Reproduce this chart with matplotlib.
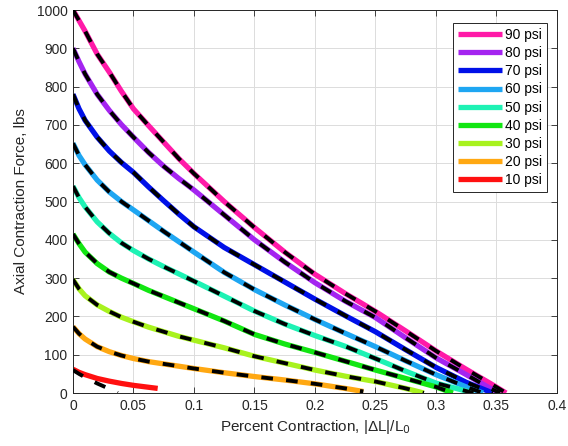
import matplotlib
matplotlib.use("Agg")
import matplotlib.pyplot as plt
from matplotlib.ticker import FuncFormatter

# --- VERİ ---
pressures = ["90 psi", "80 psi", "70 psi", "60 psi", "50 psi", "40 psi", "30 psi", "20 psi", "10 psi"]
colors = ["#ff1aa8", "#a424f0", "#0010e8", "#1ea6f2", "#1ef2b4", "#12e612", "#a8f21e", "#ffa812", "#ff1010"]

# ölçülen kuvvet eğrileri (kontraksiyon, kuvvet)
x_90 = [0, 0.01, 0.02, 0.03, 0.04, 0.05, 0.0625, 0.075, 0.0875, 0.1, 0.125, 0.15, 0.175, 0.2,
        0.225, 0.25, 0.275, 0.3, 0.325, 0.345, 0.358]
f_90 = [1000, 945, 885, 838, 788, 742, 698, 655, 612, 573, 500, 432, 368, 310,
        260, 213, 162, 110, 62, 25, 0]
x_80 = [0, 0.005, 0.01, 0.02, 0.03, 0.04, 0.05, 0.0625, 0.075, 0.0875, 0.1, 0.125, 0.15, 0.175,
        0.2, 0.225, 0.25, 0.275, 0.3, 0.325, 0.345, 0.353]
f_80 = [900, 865, 833, 780, 738, 701, 668, 628, 592, 560, 530, 465, 400, 342,
        288, 240, 197, 144, 92, 48, 12, 0]
x_70 = [0, 0.005, 0.01, 0.02, 0.03, 0.04, 0.05, 0.0625, 0.075, 0.0875, 0.1, 0.125, 0.15, 0.175,
        0.2, 0.225, 0.25, 0.275, 0.3, 0.325, 0.347]
f_70 = [780, 742, 712, 668, 632, 602, 576, 538, 502, 467, 434, 380, 335, 290,
        245, 202, 160, 113, 67, 28, 0]
x_60 = [0, 0.005, 0.01, 0.02, 0.03, 0.04, 0.05, 0.0625, 0.075, 0.0875, 0.1, 0.125, 0.15, 0.175,
        0.2, 0.225, 0.25, 0.275, 0.3, 0.325, 0.339]
f_60 = [652, 620, 596, 556, 525, 500, 478, 450, 422, 395, 368, 315, 270, 230,
        192, 156, 121, 84, 48, 16, 0]
x_50 = [0, 0.005, 0.01, 0.02, 0.03, 0.04, 0.05, 0.0625, 0.075, 0.0875, 0.1, 0.125, 0.15, 0.175,
        0.2, 0.225, 0.25, 0.275, 0.3, 0.331]
f_50 = [540, 510, 486, 447, 417, 392, 372, 350, 330, 311, 292, 253, 214, 180,
        150, 122, 90, 57, 26, 0]
x_40 = [0, 0.005, 0.01, 0.02, 0.03, 0.04, 0.05, 0.0625, 0.075, 0.0875, 0.1, 0.125, 0.15, 0.175,
        0.2, 0.225, 0.25, 0.275, 0.3, 0.314]
f_40 = [415, 390, 368, 338, 316, 300, 286, 268, 252, 236, 220, 188, 153, 128,
        106, 83, 60, 38, 16, 0]
x_30 = [0, 0.005, 0.01, 0.02, 0.03, 0.04, 0.05, 0.0625, 0.075, 0.0875, 0.1, 0.125, 0.15, 0.175,
        0.2, 0.225, 0.25, 0.275, 0.29]
f_30 = [296, 272, 254, 230, 213, 198, 186, 172, 160, 148, 138, 118, 96, 78,
        60, 44, 30, 12, 0]
x_20 = [0, 0.005, 0.01, 0.02, 0.03, 0.04, 0.05, 0.0625, 0.075, 0.0875, 0.1, 0.125, 0.15, 0.175,
        0.2, 0.225, 0.24]
f_20 = [173, 155, 141, 121, 108, 98, 90, 82, 76, 70, 64, 53, 43, 34,
        24, 12, 4]
x_10 = [0, 0.005, 0.01, 0.02, 0.03, 0.04, 0.05, 0.06, 0.07]
f_10 = [62, 54, 48, 38, 31, 25, 20, 16, 12]

# model (kesikli siyah) - 10 psi haricinde ölçümle çakışıyor
fit_x_10 = [0, 0.005, 0.01, 0.02, 0.03, 0.037]
fit_f_10 = [60, 50, 41, 25, 11, 0]

measured = [(x_90, f_90), (x_80, f_80), (x_70, f_70), (x_60, f_60), (x_50, f_50),
            (x_40, f_40), (x_30, f_30), (x_20, f_20), (x_10, f_10)]
fits = measured[:-1] + [(fit_x_10, fit_f_10)]

x_ticks = [0, 0.05, 0.1, 0.15, 0.2, 0.25, 0.3, 0.35, 0.4]
y_ticks = [0, 100, 200, 300, 400, 500, 600, 700, 800, 900, 1000]

plt.rcParams['font.family'] = ['Liberation Sans', 'DejaVu Sans']

fig = plt.figure(figsize=(5.68, 4.46), dpi=100)
ax = fig.add_axes([0.1285, 0.1188, 0.852, 0.8587])

for (xs, fs), c, lab in zip(measured, colors, pressures):
    ax.plot(xs, fs, color=c, lw=3.8, label=lab, solid_capstyle='butt', zorder=2)
for xs, fs in fits:
    ax.plot(xs, fs, color='black', lw=2.8, ls=(0, (3.0, 3.4)), zorder=3)

ax.set_xlim(0, 0.4)
ax.set_ylim(0, 1000)
ax.set_xticks(x_ticks)
ax.set_yticks(y_ticks)
ax.xaxis.set_major_formatter(FuncFormatter(lambda v, p: f"{v:g}"))
ax.tick_params(direction='in', top=True, right=True, length=4, width=0.6,
               labelsize=10, colors='#262626', pad=4)
ax.grid(True, color='#dcdcdc', lw=0.7)
ax.set_axisbelow(True)
for s in ax.spines.values():
    s.set_linewidth(0.7)
    s.set_color('#262626')

ax.set_xlabel(r"Percent Contraction, |ΔL|/L$_0$", fontsize=11, color='#262626')
ax.set_ylabel("Axial Contraction Force, lbs", fontsize=11, color='#262626', labelpad=6)

leg = ax.legend(loc='upper right', fontsize=10, handlelength=3.2, handletextpad=0.2,
                labelspacing=0.3, borderpad=0.35, borderaxespad=0, fancybox=False,
                framealpha=1, edgecolor='#262626', bbox_to_anchor=(0.979, 0.966))
leg.get_frame().set_linewidth(0.7)

plt.savefig("out.png", dpi=100)
